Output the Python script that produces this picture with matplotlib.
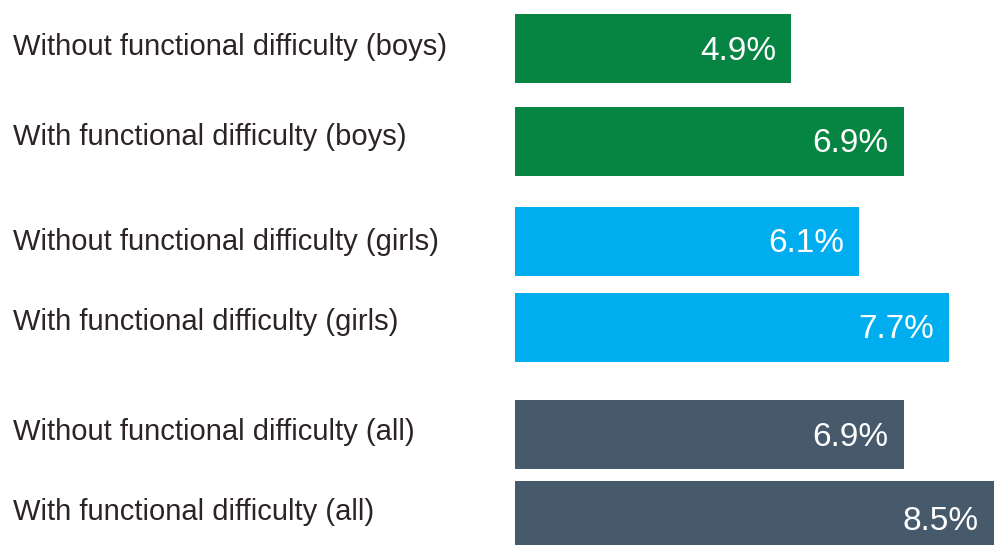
import matplotlib
matplotlib.use("Agg")
import matplotlib.pyplot as plt
from matplotlib.transforms import blended_transform_factory

# Data
categories = [
    "Without functional difficulty (boys)",
    "With functional difficulty (boys)",
    "Without functional difficulty (girls)",
    "With functional difficulty (girls)",
    "Without functional difficulty (all)",
    "With functional difficulty (all)",
]
values = [4.9, 6.9, 6.1, 7.7, 6.9, 8.5]
groups = ["boys", "boys", "girls", "girls", "all", "all"]

# Styling / layout
group_colors = {"boys": "#058442", "girls": "#00AEEF", "all": "#465A6C"}
bar_centers = [48, 141, 241, 327, 434, 518]    # vertical pixel positions
bar_heights = [69, 69, 69, 69, 69, 75]
label_baselines = [55, 145, 250, 330, 440, 520]
label_color = "#2B2326"

W, H, DPI = 994, 545, 100
plt.rcParams["font.family"] = ["Liberation Sans", "DejaVu Sans"]

fig = plt.figure(figsize=(W / DPI, H / DPI), dpi=DPI)
fig.patch.set_facecolor("white")
ax = fig.add_axes([515 / W, 0, 1 - 515 / W, 1])
ax.set_xlim(0, 8.5)
ax.set_ylim(H, 0)
ax.axis("off")

colors = [group_colors[g] for g in groups]
ax.barh(bar_centers, values, height=bar_heights, color=colors, left=0)

for v, yc in zip(values, bar_centers):
    ax.annotate(f"{v:.1f}%", xy=(v, yc + 11.5), xytext=(-15 * 72 / DPI, 0),
                textcoords="offset points", ha="right", va="baseline",
                color="white", fontsize=24)

trans = blended_transform_factory(fig.transFigure, ax.transData)
for text, yb in zip(categories, label_baselines):
    ax.text(13 / W, yb, text, transform=trans, ha="left", va="baseline",
            fontsize=21, color=label_color, clip_on=False)

fig.savefig("out.png", dpi=DPI, facecolor="white")
